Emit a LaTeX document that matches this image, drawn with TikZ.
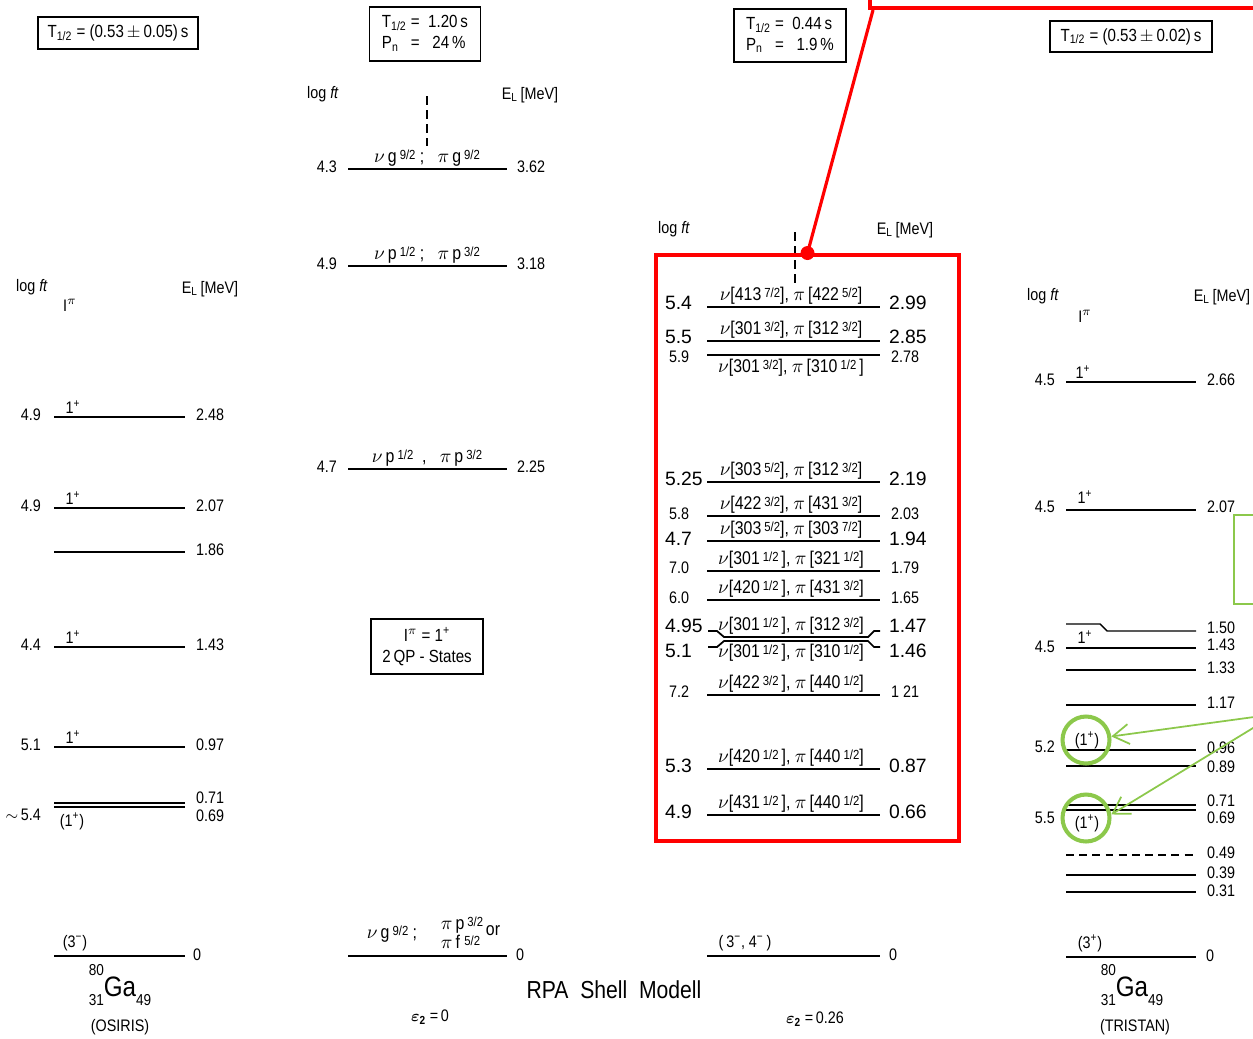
\documentclass[tikz,border=0pt]{standalone}
\usepackage{amsmath}
\usepackage{fontspec}
\setmainfont{Liberation Sans}[FakeStretch=0.86]
\newfontfamily\arialfont{Liberation Sans}
\usetikzlibrary{arrows.meta}
\definecolor{hlred}{HTML}{FF0000}
\definecolor{hlgreen}{HTML}{8CC84B}
\newcommand{\hf}[2]{\raisebox{0.3ex}{\fontsize{7.5}{8}\selectfont#1/#2}}
\newcommand{\nupi}[2]{$\nu$[#1], $\pi$\,[#2]}
\newcommand{\Thalf}{T\textsubscript{1/2}}
\newcommand{\logft}{log \textit{ft}}
\newcommand{\ELmev}{E\textsubscript{L}\,[MeV]}
\newcommand{\gaiso}{{\fontsize{9}{9}\selectfont\rlap{\raisebox{12pt}{80}}\raisebox{-5pt}{31}}{\fontsize{16}{16}\selectfont Ga}{\fontsize{9}{9}\selectfont\raisebox{-5pt}{49}}}
\tikzset{
  lvl/.style    = {line width=0.8pt},
  lvlb/.style   = {line width=1pt},
  gnd/.style    = {line width=1.6pt},
  val/.style    = {font=\fontsize{9.5}{11}\selectfont, inner sep=1pt},
  bigval/.style = {font=\arialfont\fontsize{11}{13}\selectfont, inner sep=1pt},
  cfg/.style    = {font=\fontsize{10.5}{11}\selectfont, inner sep=1pt},
  hdr/.style    = {font=\fontsize{9.5}{11}\selectfont, inner sep=1pt},
  infobox/.style = {draw, line width=0.7pt, font=\fontsize{10}{12}\selectfont, inner sep=3pt},
  hlbox/.style  = {draw=hlred, line width=2.3pt},
  ring/.style   = {draw=hlgreen, line width=2.3pt, circle, minimum size=0.94cm, inner sep=0pt},
  garrow/.style = {draw=hlgreen, line width=1pt, -{Straight Barb[length=0.32cm, width=0.4cm]}},
  vdash/.style  = {dash pattern=on 5pt off 3pt, line width=0.6pt}
}
\begin{document}
\begin{tikzpicture}[x=0.02cm, y=-0.02cm]
  \useasboundingbox (0,0) rectangle (1253,1038);

  % half-life boxes
  \node[infobox, minimum width=3.2cm, minimum height=0.64cm] (tosiris) at (118,33)
       {\Thalf{} = (0.53\,$\pm$\,0.05)\,s};
  \node[infobox, minimum width=2.22cm, minimum height=1.08cm] (trpa0) at (425,34)
       {\begin{tabular}{@{}l@{\ =\ \ }l@{}}\Thalf & 1.20\,s\\ P\textsubscript{n} & \ 24\,\%\end{tabular}};
  \node[infobox, minimum width=2.24cm, minimum height=1.06cm] (trpa26) at (790,35.5)
       {\begin{tabular}{@{}l@{\ =\ \ }l@{}}\Thalf & 0.44\,s\\ P\textsubscript{n} & \ 1.9\,\%\end{tabular}};
  \node[infobox, minimum width=3.24cm, minimum height=0.62cm] (ttristan) at (1131,36.5)
       {\Thalf{} = (0.53\,$\pm$\,0.02)\,s};
  \node[infobox, minimum width=2.24cm, minimum height=1.1cm, align=center] (qpbox) at (427,646.5)
       {I$^{\pi}$ = 1\textsuperscript{+}\\2\,QP - States};

  % OSIRIS
  \node[hdr, anchor=west] (ohlog) at (14,287) {\logft};
  \node[hdr] (ohspin) at (70,305) {I$^{\pi}$};
  \node[hdr] (ohel) at (210,289) {\ELmev};
  \foreach \y/\f/\e/\n in {417/4.9/2.48/a, 508/4.9/2.07/b, 647/4.4/1.43/c, 747/5.1/0.97/d} {
    \draw[lvl] (54,\y) -- (185,\y);
    \node[val, anchor=east] (of\n) at (43,\y-2) {\f};
    \node[val, anchor=west] (oe\n) at (194,\y-2) {\e};
    \node[val, anchor=south] (os\n) at (73,\y-1) {1\textsuperscript{+}};
  }
  \draw[lvl] (54,552) -- (185,552);
  \node[val, anchor=west] (oee) at (194,550) {1.86};
  \draw[lvl] (54,803) -- (185,803);
  \draw[lvl] (54,807) -- (185,807);
  \node[val, anchor=west] (oef) at (194,798) {0.71};
  \node[val, anchor=west] (oeg) at (194,816) {0.69};
  \node[val, anchor=east] (off) at (43,815) {$\sim$\,5.4};
  \node[val] (osf) at (72,821) {(1\textsuperscript{+})};
  \draw[gnd] (54,956) -- (185,956);
  \node[val] (osg) at (75,943) {(3\textsuperscript{−})};
  \node[val, anchor=west] (oeg0) at (191,955) {0};
  \node (oiso) at (120,985) {\gaiso};
  \node[val] (oname) at (120,1027) {(OSIRIS)};

  % RPA, eps2 = 0
  \node[hdr, anchor=west] (rhlog) at (305,94) {\logft};
  \node[hdr] (rhel) at (530,95) {\ELmev};
  \draw[vdash] (427,96) -- (427,146);
  \foreach \y/\f/\e/\c/\n in {169/4.3/3.62/{$\nu$\,g\,\hf92\ ;\ \ \ $\pi$\,g\,\hf92}/a,
                              266/4.9/3.18/{$\nu$\,p\,\hf12\ ;\ \ \ $\pi$\,p\,\hf32}/b,
                              469/4.7/2.25/{$\nu$\,p\,\hf12\ \ ,\ \ \ $\pi$\,p\,\hf32}/c} {
    \draw[lvl] (348,\y) -- (507,\y);
    \node[val, anchor=east] (pf\n) at (339,\y-2) {\f};
    \node[val, anchor=west] (pe\n) at (515,\y-2) {\e};
    \node[cfg, anchor=south] (pc\n) at (427,\y-1) {\c};
  }
  \draw[gnd] (348,956) -- (507,956);
  \node[cfg] (pcg1) at (392,934) {$\nu$\,g\,\hf92\ ;};
  \node[cfg, align=left] (pcg2) at (462,933) {$\pi$\,p\,\hf32\\$\pi$\,f\ \hf52};
  \node[cfg] (pcg3) at (493,931) {or};
  \node[val, anchor=west] (peg) at (514,955) {0};
  \node[val] (peps) at (430,1017) {$\boldsymbol{\varepsilon}_{\mathbf 2}$\,=\,0};

  \node[font=\fontsize{14}{16}\selectfont] (rpatitle) at (614,990) {RPA\ \ Shell\ \ Modell};

  % RPA, eps2 = 0.26
  \node[hdr, anchor=west] (shlog) at (656,229) {\logft};
  \node[hdr] (shel) at (905,230) {\ELmev};
  \foreach \y/\c/\n in {307/{\nupi{413\,\hf72}{422\,\hf52}}/a,
                        341/{\nupi{301\,\hf32}{312\,\hf32}}/b,
                        482/{\nupi{303\,\hf52}{312\,\hf32}}/d,
                        516/{\nupi{422\,\hf32}{431\,\hf32}}/e,
                        541/{\nupi{303\,\hf52}{303\,\hf72}}/f,
                        571/{\nupi{301\,\hf12\,}{321\,\hf12}}/g,
                        600/{\nupi{420\,\hf12\,}{431\,\hf32}}/h,
                        695/{\nupi{422\,\hf32\,}{440\,\hf12}}/k,
                        769/{\nupi{420\,\hf12\,}{440\,\hf12}}/l,
                        815/{\nupi{431\,\hf12\,}{440\,\hf12}}/m} {
    \draw[lvlb] (707,\y) -- (880,\y);
    \node[cfg, anchor=south] (sc\n) at (791,\y-1) {\c};
  }
  \draw[lvlb] (707,355) -- (880,355);
  \node[cfg, anchor=north] (scc) at (791,357) {\nupi{301\,\hf32}{310\,\hf12\,}};
  \draw[lvlb] (708,631) -- (717,631) -- (724,637) -- (868,637) -- (874,631) -- (880,631);
  \draw[lvlb] (708,647) -- (717,647) -- (724,641) -- (868,641) -- (874,647) -- (880,647);
  \node[cfg, anchor=south] (sci) at (791,636) {\nupi{301\,\hf12\,}{312\,\hf32}};
  \node[cfg, anchor=north] (scj) at (791,642) {\nupi{301\,\hf12\,}{310\,\hf12}};
  \foreach \y/\f/\e/\n in {303/5.4/2.99/a, 337/5.5/2.85/b, 479/5.25/2.19/d, 539/4.7/1.94/f,
                           626/4.95/1.47/i, 651/5.1/1.46/j, 766/5.3/0.87/l, 812/4.9/0.66/m} {
    \node[bigval, anchor=west] (sf\n) at (663,\y) {\f};
    \node[bigval, anchor=west] (se\n) at (887,\y) {\e};
  }
  \foreach \y/\f/\e/\n in {357/5.9/2.78/c, 514/5.8/2.03/e, 568/7.0/1.79/g, 598/6.0/1.65/h, 692/7.2/1 21/k} {
    \node[val, anchor=west] (sf\n) at (667,\y) {\f};
    \node[val, anchor=west] (se\n) at (889,\y) {\e};
  }
  \draw[gnd] (707,956) -- (880,956);
  \node[val] (ssg) at (745,943) {(\,3\textsuperscript{−}, 4\textsuperscript{−}\,)};
  \node[val, anchor=west] (seg) at (887,955) {0};
  \node[val] (seps) at (815,1019) {$\boldsymbol{\varepsilon}_{\mathbf 2}$\,=\,0.26};
  \draw[vdash] (795,232) -- (795,285);

  % TRISTAN
  \node[hdr, anchor=west] (thlog) at (1025,296) {\logft};
  \node[hdr] (thspin) at (1085,316) {I$^{\pi}$};
  \node[hdr] (thel) at (1222,297) {\ELmev};
  \foreach \y in {382, 510, 648, 670, 705, 750, 766, 805, 810, 875, 892}
    \draw[lvl] (1066,\y) -- (1196,\y);
  \draw[lvl] (1066,624) -- (1100,624) -- (1107,631) -- (1196,631);
  \draw[lvl, dash pattern=on 4.5pt off 3pt] (1066,855) -- (1196,855);
  \draw[gnd] (1066,957) -- (1196,957);
  \foreach \y/\e/\n in {380/2.66/a, 507/2.07/b, 628/1.50/c, 645/1.43/d, 668/1.33/e, 703/1.17/f,
                        748/0.96/g, 767/0.89/h, 801/0.71/i, 818/0.69/j, 853/0.49/k, 873/0.39/l, 891/0.31/m}
    \node[val, anchor=west] (te\n) at (1205,\y) {\e};
  \foreach \y/\f/\n in {380/4.5/a, 507/4.5/b, 647/4.5/d, 747/5.2/g, 818/5.5/j}
    \node[val, anchor=east] (tf\n) at (1057,\y) {\f};
  \foreach \x/\y/\n in {1083/372/a, 1085/497/b, 1085/637/d}
    \node[val] (ts\n) at (\x,\y) {1\textsuperscript{+}};
  \node[val] (tsg) at (1087,740) {(1\textsuperscript{+})};
  \node[val] (tsj) at (1087,823) {(1\textsuperscript{+})};
  \node[val] (ts0) at (1090,943) {(3\textsuperscript{+})};
  \node[val, anchor=west] (te0) at (1204,956) {0};
  \node (tiso) at (1132,985) {\gaiso};
  \node[val] (tname) at (1135,1027) {(TRISTAN)};

  % red highlight
  \node[hlbox, minimum width=6.06cm, minimum height=11.72cm] (redbox) at (807.5,548) {};
  \node[hlbox, minimum width=8.6cm, minimum height=2.16cm] (topbox) at (1085,-46) {};
  \draw[hlred, line width=1.8pt] (redbox.north) -- ([xshift=0.1cm]topbox.south west);
  \fill[hlred] (redbox.north) circle (0.14cm);

  % green highlight
  \node[ring] (ringA) at (1086,740) {};
  \node[ring] (ringB) at (1086,818) {};
  \node[draw=hlgreen, line width=1.4pt, minimum width=2cm, minimum height=1.78cm] (gbox) at (1284,559.5) {};
  \coordinate (gsrc) at (1276,714);
  \draw[garrow] (gsrc) -- (ringA.8);
  \draw[garrow] (gsrc) -- (ringB.8);
\end{tikzpicture}
\end{document}
